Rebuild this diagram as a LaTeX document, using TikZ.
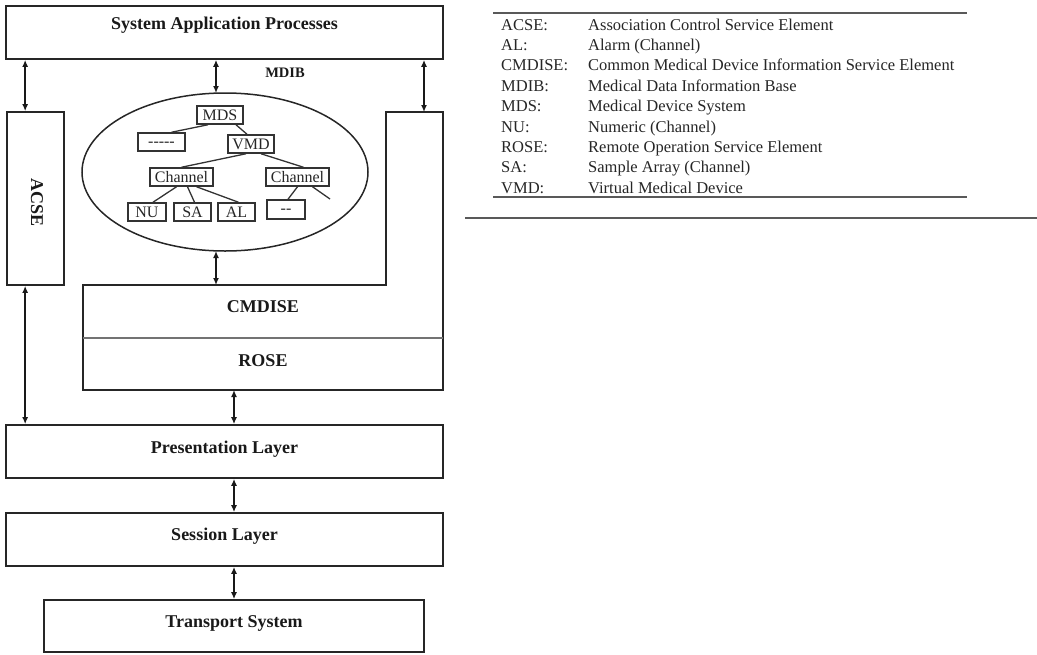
\documentclass[tikz,border=0pt]{standalone}
\usepackage{fontspec}
\setmainfont{Liberation Serif}
\usetikzlibrary{arrows.meta}
\tikzset{
  layer/.style={draw=black!85, line width=1.7pt, inner sep=0pt, font=\fontsize{18}{20}\selectfont\bfseries},
  lbl/.style={inner sep=0pt, text=black!90, font=\fontsize{18}{20}\selectfont\bfseries},
  tbox/.style={draw=black!80, line width=1.5pt, inner sep=0pt, text=black!85, font=\fontsize{16}{17}\selectfont},
  dashtxt/.style={inner sep=0pt, text=black!85, font=\fontsize{16}{17}\selectfont},
  tline/.style={draw=black!80, line width=1.3pt},
  biarrow/.style={line width=2.3pt, black!90, {Latex[length=7pt,width=6pt]}-{Latex[length=7pt,width=6pt]}},
  legab/.style={anchor=base west, inner sep=0pt, text=black!85, font=\fontsize{16.5}{18}\selectfont},
  rule/.style={draw=black!65, line width=2.4pt},
}
\begin{document}
\begin{tikzpicture}[x=1pt,y=-1pt]
\useasboundingbox (0,0) rectangle (1037,654);
% layer boxes
\node[layer, minimum width=437pt, minimum height=53pt] (sap) at (224.5,32.5) {};
\node[lbl] at (224.5,25) {System Application Processes};
\node[layer, minimum width=57pt, minimum height=173pt] (acse) at (35.5,198.5) {};
\node[lbl, rotate=-90] at (37,203) {ACSE};
% L-shaped CMDISE/ROSE block
\coordinate (rt) at (424,112);
\draw[black!85, line width=1.7pt] (83,285) -- (386,285) -- (386,112) -- (443,112) -- (443,390) -- (83,390) -- cycle;
\draw[black!55, line width=1.2pt] (83,338) -- (443,338);
\node[lbl] (cmdise) at (263,307) {CMDISE};
\node[lbl] (rose) at (263,361) {ROSE};
\coordinate (cmtop) at (216,285);
\coordinate (rosebot) at (234,390);
\node[layer, minimum width=437pt, minimum height=53pt] (pres) at (224.5,451.5) {};
\node[lbl] at (224.5,449) {Presentation Layer};
\node[layer, minimum width=437pt, minimum height=53pt] (sess) at (224.5,539.5) {};
\node[lbl] at (224.5,536) {Session Layer};
\node[layer, minimum width=380pt, minimum height=52pt] (trans) at (234,626) {};
\node[lbl] at (234,623) {Transport System};
% MDIB ellipse
\draw[black!85, line width=1.5pt] (225,172) ellipse [x radius=143, y radius=79];
\coordinate (elltop) at (216,93);
\coordinate (ellbot) at (216,251);
\node[inner sep=0pt, text=black!90, font=\fontsize{14.5}{16}\selectfont\bfseries] (mdib) at (285,73) {MDIB};
% tree
\node[tbox, minimum width=46pt, minimum height=18pt] (mds) at (220,115) {MDS};
\node[tbox, minimum width=47pt, minimum height=18pt] (dots) at (161.5,142) {};
\node[dashtxt] at ([yshift=-2pt]dots.center) {{-}{-}{-}{-}{-}};
\node[tbox, minimum width=46pt, minimum height=18pt] (vmd) at (251,144) {VMD};
\node[tbox, minimum width=63pt, minimum height=18pt] (ch1) at (181.5,177) {Channel};
\node[tbox, minimum width=63pt, minimum height=18pt] (ch2) at (297.5,177) {Channel};
\node[tbox, minimum width=38pt, minimum height=18pt] (nu) at (147,212) {NU};
\node[tbox, minimum width=37pt, minimum height=18pt] (sa) at (192.5,212) {SA};
\node[tbox, minimum width=37pt, minimum height=18pt] (al) at (236.5,212) {AL};
\node[tbox, minimum width=38pt, minimum height=19pt] (dd) at (286,209.5) {};
\node[dashtxt] at ([yshift=-2pt]dd.center) {{-}{-}};
\coordinate (free) at (330,199);
\draw[tline] ([xshift=-12pt]mds.south) -- ([xshift=10pt]dots.north);
\draw[tline] ([xshift=16pt]mds.south) -- ([xshift=-4pt]vmd.north);
\draw[tline] ([xshift=-5pt]vmd.south) -- (ch1.north);
\draw[tline] ([xshift=10pt]vmd.south) -- ([xshift=6pt]ch2.north);
\draw[tline] ([xshift=-5pt]ch1.south) -- ([xshift=6pt]nu.north);
\draw[tline] ([xshift=6pt]ch1.south) -- ([xshift=2pt]sa.north);
\draw[tline] ([xshift=15pt]ch1.south) -- ([xshift=2pt]al.north);
\draw[tline] ([xshift=0pt]ch2.south) -- ([xshift=2pt]dd.north);
\draw[tline] ([xshift=15pt]ch2.south) -- (free);
% arrows
\draw[biarrow] (sap.south -| acse.north west) ++(19pt,0) coordinate (a1) -- (a1 |- acse.north);
\draw[biarrow] (elltop |- sap.south) -- (elltop);
\draw[biarrow] (rt |- sap.south) -- (rt);
\draw[biarrow] (ellbot) -- (cmtop);
\draw[biarrow] (a1 |- acse.south) -- (a1 |- pres.north);
\draw[biarrow] (rosebot) -- (rosebot |- pres.north);
\draw[biarrow] (rosebot |- pres.south) -- (rosebot |- sess.north);
\draw[biarrow] (rosebot |- sess.south) -- (trans.north);
% legend
\draw[rule] (493,13) -- (967,13);
\draw[rule] (493,197) -- (967,197);
\draw[rule] (465,218) -- (1037,218);
\foreach \ab/\de [count=\i from 0] in {ACSE:/Association Control Service Element, AL:/Alarm (Channel), CMDISE:/Common Medical Device Information Service Element, MDIB:/Medical Data Information Base, MDS:/Medical Device System, NU:/Numeric (Channel), ROSE:/Remote Operation Service Element, SA:/Sample Array (Channel), VMD:/Virtual Medical Device}{
  \node[legab] (ab\i) at (501,{30+20.4*\i}) {\ab};
  \node[legab] (de\i) at (588,{30+20.4*\i}) {\de};
}
\end{tikzpicture}
\end{document}
